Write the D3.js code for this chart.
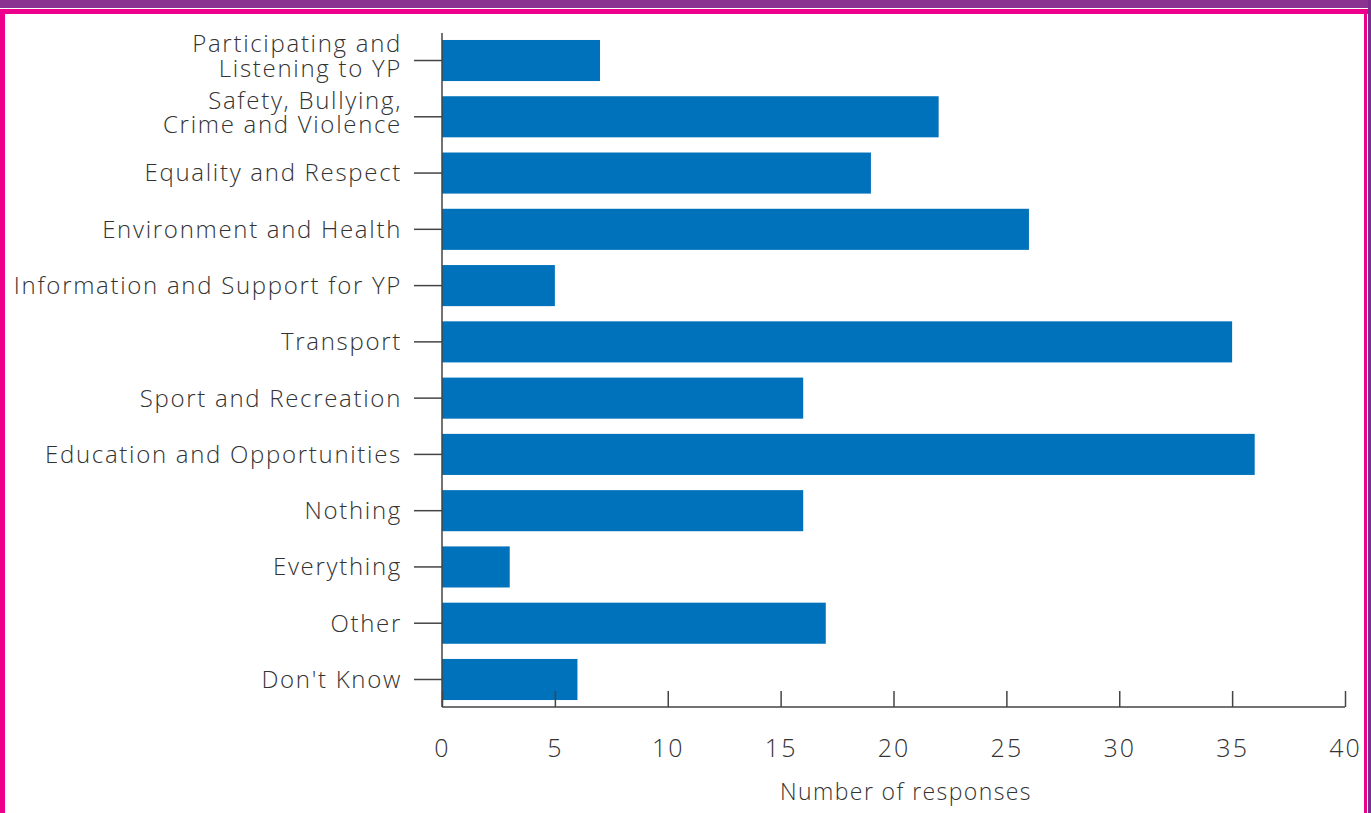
<!DOCTYPE html>
<html>
<head>
<meta charset="utf-8">
<script src="https://cdn.jsdelivr.net/npm/d3@7"></script>
<style>
  body { margin: 0; background: #fff; }
  text { font-family: "Open Sans", sans-serif; font-weight: 300; fill: #333; }
</style>
</head>
<body>
<div id="chart"></div>
<script>
var svgWidth = 1371;
var svgHeight = 813;

// data
var categories = [
  ["Participating and", "Listening to YP"],
  ["Safety, Bullying,", "Crime and Violence"],
  ["Equality and Respect"],
  ["Environment and Health"],
  ["Information and Support for YP"],
  ["Transport"],
  ["Sport and Recreation"],
  ["Education and Opportunities"],
  ["Nothing"],
  ["Everything"],
  ["Other"],
  ["Don't Know"]
];
var responses = [7, 22, 19, 26, 5, 35, 16, 36, 16, 3, 17, 6];
var xTicks = [0, 5, 10, 15, 20, 25, 30, 35, 40];

var margin = { top: 33, right: 26, bottom: 106, left: 442 };
var width = svgWidth - margin.left - margin.right;
var height = svgHeight - margin.top - margin.bottom;

var svg = d3.select("#chart")
  .append("svg")
  .attr("width", svgWidth)
  .attr("height", svgHeight);

// frame
svg.append("rect")
  .attr("x", 0).attr("y", 0)
  .attr("width", svgWidth).attr("height", 8)
  .attr("fill", "#8a3390");
svg.append("rect")
  .attr("x", 0).attr("y", 9)
  .attr("width", svgWidth).attr("height", 5)
  .attr("fill", "#ec008c");
svg.append("rect")
  .attr("x", 0).attr("y", 9)
  .attr("width", 5).attr("height", svgHeight)
  .attr("fill", "#ec008c");
svg.append("rect")
  .attr("x", 1364).attr("y", 9)
  .attr("width", 3).attr("height", svgHeight)
  .attr("fill", "#ec008c");
svg.append("rect")
  .attr("x", 1368).attr("y", 0)
  .attr("width", 3).attr("height", svgHeight)
  .attr("fill", "#7a2d8c");

var chartGroup = svg.append("g")
  .attr("transform", `translate(${margin.left}, ${margin.top})`);

var idx = d3.range(categories.length);

var xScale = d3.scaleLinear()
  .domain([0, 40])
  .range([0, 903]);

var yScale = d3.scaleBand()
  .domain(idx)
  .range([0, 674])
  .paddingInner(0.27)
  .paddingOuter(0.124);

// bars
chartGroup.selectAll("rect.bar")
  .data(idx)
  .enter()
  .append("rect")
  .attr("class", "bar")
  .attr("x", 0)
  .attr("y", i => yScale(i))
  .attr("width", i => xScale(responses[i]))
  .attr("height", yScale.bandwidth())
  .attr("fill", "#0071bb");

// x axis
var bottomAxis = d3.axisBottom(xScale)
  .tickValues(xTicks)
  .tickSize(-16)
  .tickPadding(32);

var xAxisG = chartGroup.append("g")
  .attr("transform", `translate(0, ${height})`)
  .call(bottomAxis);
xAxisG.select(".domain").attr("d", `M0,0H${xScale(40)}`).attr("stroke", "#444").attr("stroke-width", 1.5);
xAxisG.selectAll(".tick line").attr("stroke", "#444").attr("stroke-width", 1.5);
xAxisG.selectAll(".tick text")
  .style("font-size", "25px")
  .style("font-family", "'Open Sans', sans-serif")
  .style("font-weight", "300")
  .style("letter-spacing", "2px")
  .attr("fill", "#333");

// y axis
var leftAxis = d3.axisLeft(yScale)
  .tickSize(28)
  .tickFormat("");

var yAxisG = chartGroup.append("g").call(leftAxis);
yAxisG.select(".domain").attr("d", `M0,0V${height}`).attr("stroke", "#444").attr("stroke-width", 1.5);
yAxisG.selectAll(".tick line").attr("stroke", "#444").attr("stroke-width", 1.5);

// category labels
var labels = chartGroup.selectAll("text.cat")
  .data(idx)
  .enter()
  .append("text")
  .attr("class", "cat")
  .attr("text-anchor", "end")
  .style("font-size", "24px")
  .style("letter-spacing", "1.7px")
  .attr("x", -40)
  .attr("y", i => yScale(i) + yScale.bandwidth() / 2);

labels.each(function(i) {
  var lines = categories[i];
  var t = d3.select(this);
  lines.forEach(function(line, k) {
    t.append("tspan")
      .attr("x", -40)
      .attr("dy", k === 0 ? (0.35 - (lines.length - 1) * 0.69) + "em" : "1.03em")
      .text(line);
  });
});

// axis title
svg.append("text")
  .attr("x", 906)
  .attr("y", 800)
  .attr("text-anchor", "middle")
  .style("font-size", "23px")
  .style("letter-spacing", "1.4px")
  .attr("fill", "#444")
  .text("Number of responses");
</script>
</body>
</html>
